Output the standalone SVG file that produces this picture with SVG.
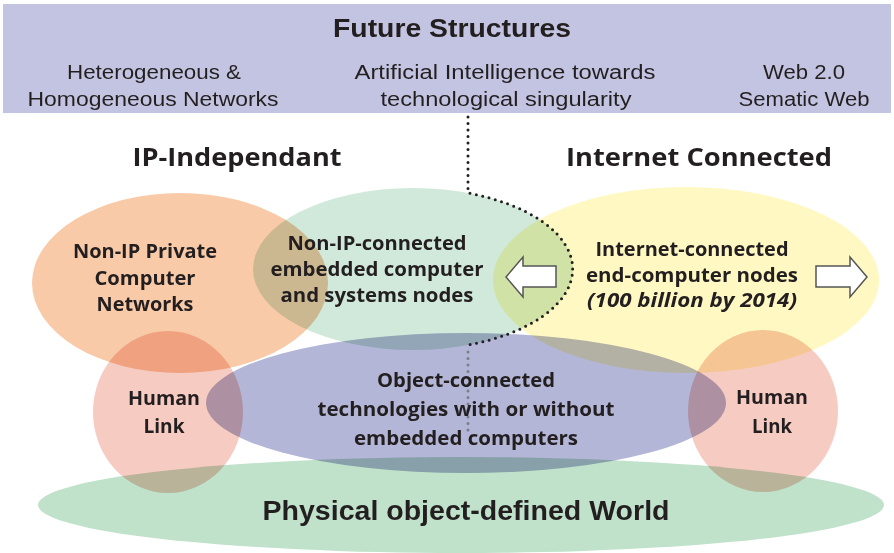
<svg xmlns="http://www.w3.org/2000/svg" width="894" height="553" viewBox="0 0 894 553">
<style>
.t{font-family:"Open Sans","Liberation Sans",sans-serif;font-weight:700;fill:#231f20;text-anchor:middle;font-size:19px}
.h{font-family:"Liberation Sans Narrow","Liberation Sans",sans-serif;font-weight:400;fill:#231f20;text-anchor:middle;font-size:20px}
.hb{font-family:"Liberation Sans Narrow","Liberation Sans",sans-serif;font-weight:700;fill:#231f20;text-anchor:middle}
.big{font-size:25px;font-weight:700}
.e{mix-blend-mode:multiply}
.arrow{fill:#fff;stroke:#555;stroke-width:1.5}
</style>
<rect x="0" y="0" width="894" height="553" fill="#fff"/>
<g id="header">
<rect x="3" y="4" width="888" height="109" fill="#c3c4e1"/>
<text class="hb" x="452" y="37" font-size="26" textLength="238" lengthAdjust="spacingAndGlyphs">Future Structures</text>
<text class="h" x="154" y="79" textLength="174" lengthAdjust="spacingAndGlyphs">Heterogeneous &amp;</text>
<text class="h" x="153" y="106" textLength="251" lengthAdjust="spacingAndGlyphs">Homogeneous Networks</text>
<text class="h" x="505" y="79" textLength="301" lengthAdjust="spacingAndGlyphs">Artificial Intelligence towards</text>
<text class="h" x="506" y="106" textLength="251" lengthAdjust="spacingAndGlyphs">technological singularity</text>
<text class="h" x="804" y="79" textLength="82" lengthAdjust="spacingAndGlyphs">Web 2.0</text>
<text class="h" x="804" y="106" textLength="131" lengthAdjust="spacingAndGlyphs">Sematic Web</text>
</g>
<g id="labels">
<text class="t big" x="237" y="166" textLength="209" lengthAdjust="spacingAndGlyphs">IP-Independant</text>
<text class="t big" x="699" y="166" textLength="266" lengthAdjust="spacingAndGlyphs">Internet Connected</text>
</g>
<g id="shapes">
<ellipse id="physical-world" class="e" cx="461" cy="505" rx="423" ry="48" fill="#c0e1ca"/>
<ellipse id="object-connected" class="e" cx="466" cy="403" rx="260" ry="70" fill="#b3b6d6"/>
<ellipse id="non-ip-private" class="e" cx="180" cy="283" rx="148" ry="90" fill="#f9caa8"/>
<ellipse id="non-ip-embedded" class="e" cx="413" cy="269" rx="160" ry="81" fill="#d1e9da"/>
<ellipse id="internet-connected" class="e" cx="686" cy="280" rx="193" ry="93" fill="#fff8c2"/>
<ellipse id="human-link-left" class="e" cx="168" cy="412" rx="75" ry="81" fill="#f6cbc2"/>
<ellipse id="human-link-right" class="e" cx="763" cy="411" rx="75" ry="81" fill="#f6cbc2"/>
</g>
<g id="connectors">
<path d="M468,117 V193 A160,81 0 0 1 468,345" fill="none" stroke="#231f20" stroke-width="3" stroke-linecap="round" stroke-dasharray="0 6.5"/>
<path d="M468,352 V436" fill="none" stroke="#7a7f8a" stroke-width="3" stroke-linecap="round" stroke-dasharray="0 6.5"/>
<polygon class="arrow" points="506,277 523,257 523,266 556,266 556,287 523,287 523,297"/>
<polygon class="arrow" points="867,277 850,257 850,266 816,266 816,287 850,287 850,297"/>
</g>
<g id="node-texts">
<g id="t-non-ip-private">
<text class="t" x="145" y="258" textLength="144" lengthAdjust="spacingAndGlyphs">Non-IP Private</text>
<text class="t" x="145" y="285" textLength="101" lengthAdjust="spacingAndGlyphs">Computer</text>
<text class="t" x="145" y="311" textLength="97" lengthAdjust="spacingAndGlyphs">Networks</text>
</g>
<g id="t-non-ip-embedded">
<text class="t" x="377" y="250" textLength="179" lengthAdjust="spacingAndGlyphs">Non-IP-connected</text>
<text class="t" x="377" y="276" textLength="213" lengthAdjust="spacingAndGlyphs">embedded computer</text>
<text class="t" x="377" y="302" textLength="193" lengthAdjust="spacingAndGlyphs">and systems nodes</text>
</g>
<g id="t-internet">
<text class="t" x="692" y="256" textLength="193" lengthAdjust="spacingAndGlyphs">Internet-connected</text>
<text class="t" x="692" y="282" textLength="212" lengthAdjust="spacingAndGlyphs">end-computer nodes</text>
<text class="t" x="692" y="307" font-style="italic" textLength="210" lengthAdjust="spacingAndGlyphs">(100 billion by 2014)</text>
</g>
<g id="t-object">
<text class="t" x="466" y="387" textLength="178" lengthAdjust="spacingAndGlyphs">Object-connected</text>
<text class="t" x="466" y="416" textLength="297" lengthAdjust="spacingAndGlyphs">technologies with or without</text>
<text class="t" x="466" y="445" textLength="224" lengthAdjust="spacingAndGlyphs">embedded computers</text>
</g>
<g id="t-human-left">
<text class="t" x="164" y="405" textLength="72" lengthAdjust="spacingAndGlyphs">Human</text>
<text class="t" x="164" y="433" textLength="41" lengthAdjust="spacingAndGlyphs">Link</text>
</g>
<g id="t-human-right">
<text class="t" x="772" y="404" textLength="72" lengthAdjust="spacingAndGlyphs">Human</text>
<text class="t" x="772" y="433" textLength="40" lengthAdjust="spacingAndGlyphs">Link</text>
</g>
<text class="hb" x="466" y="520" font-size="27" textLength="407" lengthAdjust="spacingAndGlyphs">Physical object-defined World</text>
</g>
</svg>
